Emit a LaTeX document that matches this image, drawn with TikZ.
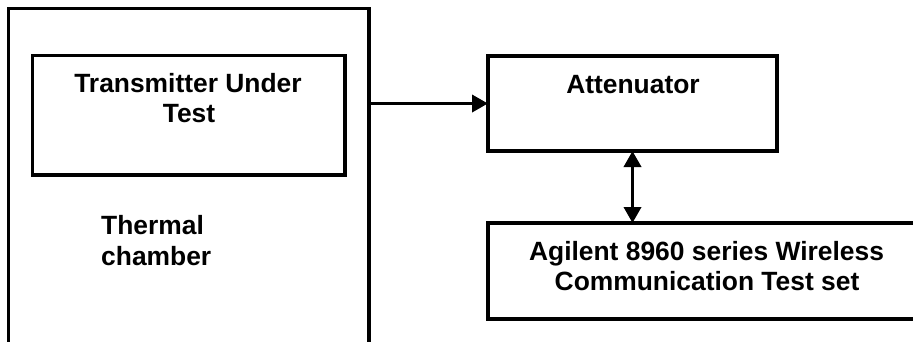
\documentclass[tikz,border=0pt]{standalone}
\usepackage{fontspec}
\setmainfont{Liberation Sans}
\usetikzlibrary{arrows.meta}
\begin{document}
\begin{tikzpicture}[x=1pt,y=-1pt,
  box/.style={draw=black,line width=3.4pt,rectangle,inner sep=0pt,outer sep=0pt},
  lbl/.style={font=\bfseries\fontsize{26.4}{30.5}\selectfont,inner sep=0pt,anchor=base},
  conn/.style={line width=3.6pt,-{Triangle[length=16pt,width=17pt]}},
  dconn/.style={line width=3.6pt,{Triangle[length=16pt,width=17pt]}-{Triangle[length=16pt,width=17pt]}}]
\useasboundingbox[fill=white] (0,0) rectangle (913,341);
\clip (0,0) rectangle (913,341);
\node[box,minimum width=360.7pt,minimum height=351.5pt] (chamber) at (188.65,184.25) {};
\node[box,minimum width=312.5pt,minimum height=119.5pt] (tut) at (188.75,115.25) {};
\node[box,minimum width=289pt,minimum height=95pt] (att) at (632.5,103.5) {};
\node[box,minimum width=472pt,minimum height=96pt] (agi) at (724,271) {};
\node[lbl] (tut1) at (188,92.3) {Transmitter Under};
\node[lbl] (tut2) at (189,122.8) {Test};
\node[lbl] (attl) at (633,93) {Attenuator};
\node[lbl,anchor=base west] (th1) at (101,234.3) {Thermal};
\node[lbl,anchor=base west] (th2) at (101,265) {chamber};
\node[lbl] (agi1) at (706.5,260) {Agilent 8960 series Wireless};
\node[lbl] (agi2) at (707,290) {Communication Test set};
\draw[conn] (chamber.east |- att.west) -- (att.west);
\draw[dconn] (att.south) -- (att.south |- agi.north);
\end{tikzpicture}
\end{document}
